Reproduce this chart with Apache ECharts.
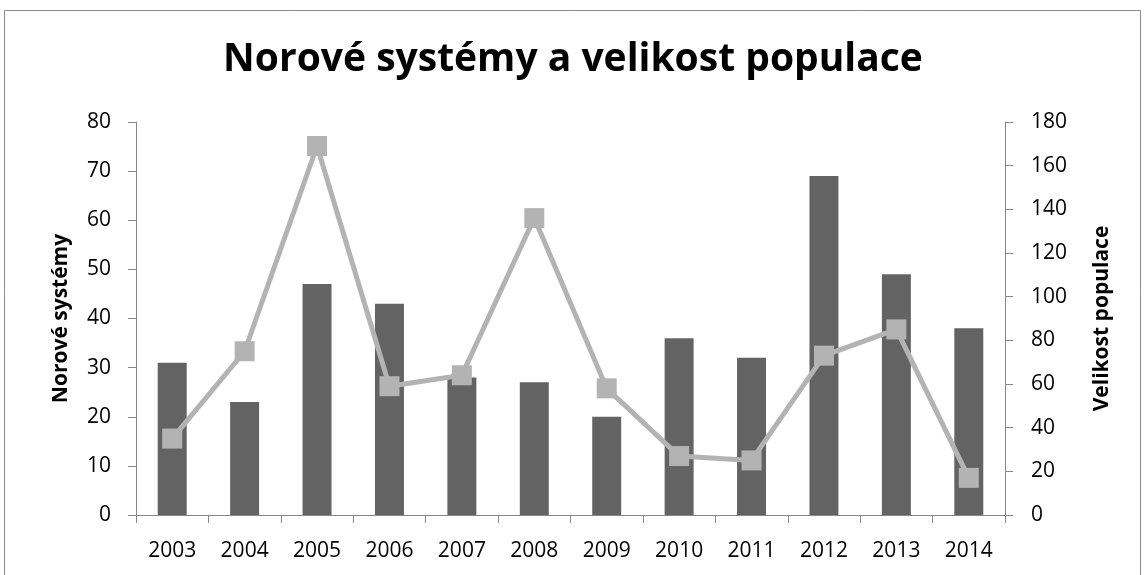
<!DOCTYPE html>
<html><head><meta charset="utf-8">
<script src="https://cdn.jsdelivr.net/npm/echarts@6/dist/echarts.min.js"></script>
<style>html,body{margin:0;padding:0;background:#fff}#c{width:1146px;height:575px}</style>
</head><body><div id="c"></div>
<script>
const years = ['2003','2004','2005','2006','2007','2008','2009','2010','2011','2012','2013','2014'];
const norovirus = [31,23,47,43,28,27,20,36,32,69,49,38];
const population = [35,75,169,59,64,136,58,27,25,73,85,17];
const leftTicks = [0,80,10];
const rightTicks = [0,180,20];

const FONT = '"Open Sans", sans-serif';
const axisGray = '#868686';
const chart = echarts.init(document.getElementById('c'), null, {renderer:'canvas'});
chart.setOption({
  animation:false,
  backgroundColor:'#fff',
  title:{text:'Norové systémy a velikost populace', left:'center', top:35,
    textStyle:{fontFamily:FONT, fontWeight:'bold', fontSize:39, color:'#000'}},
  graphic:[{type:'rect', shape:{x:4.5,y:10.5,width:1136,height:600}, style:{fill:null, stroke:'#8c8c8c', lineWidth:1}}],
  grid:{left:136, right:141, top:122, bottom:60},
  xAxis:{type:'category', data:years,
    axisLine:{lineStyle:{color:axisGray}},
    axisTick:{show:true, length:8, lineStyle:{color:axisGray}},
    axisLabel:{fontFamily:FONT, fontSize:21, color:'#000', margin:26}},
  yAxis:[
    {type:'value', min:leftTicks[0], max:leftTicks[1], interval:leftTicks[2],
     name:'Norové systémy', nameLocation:'middle', nameGap:64, nameRotate:90,
     nameTextStyle:{fontFamily:FONT, fontWeight:'bold', fontSize:21, color:'#000'},
     axisLine:{show:true, lineStyle:{color:axisGray}},
     axisTick:{show:true, length:8, lineStyle:{color:axisGray}},
     splitLine:{show:false},
     axisLabel:{fontFamily:FONT, fontSize:21, color:'#000', margin:25}},
    {type:'value', min:rightTicks[0], max:rightTicks[1], interval:rightTicks[2],
     name:'Velikost populace', nameLocation:'middle', nameGap:87, nameRotate:90,
     nameTextStyle:{fontFamily:FONT, fontWeight:'bold', fontSize:21, color:'#000'},
     axisLine:{show:true, lineStyle:{color:axisGray}},
     axisTick:{show:true, length:8, lineStyle:{color:axisGray}},
     splitLine:{show:false},
     axisLabel:{fontFamily:FONT, fontSize:21, color:'#000', margin:26}}
  ],
  series:[
    {type:'bar', data:norovirus, yAxisIndex:0, barWidth:'40%',
     itemStyle:{color:'#636363'}},
    {type:'line', data:population, yAxisIndex:1, symbol:'rect', symbolSize:20,
     lineStyle:{color:'#b3b3b3', width:5}, itemStyle:{color:'#b3b3b3'}}
  ]
});
</script></body></html>
